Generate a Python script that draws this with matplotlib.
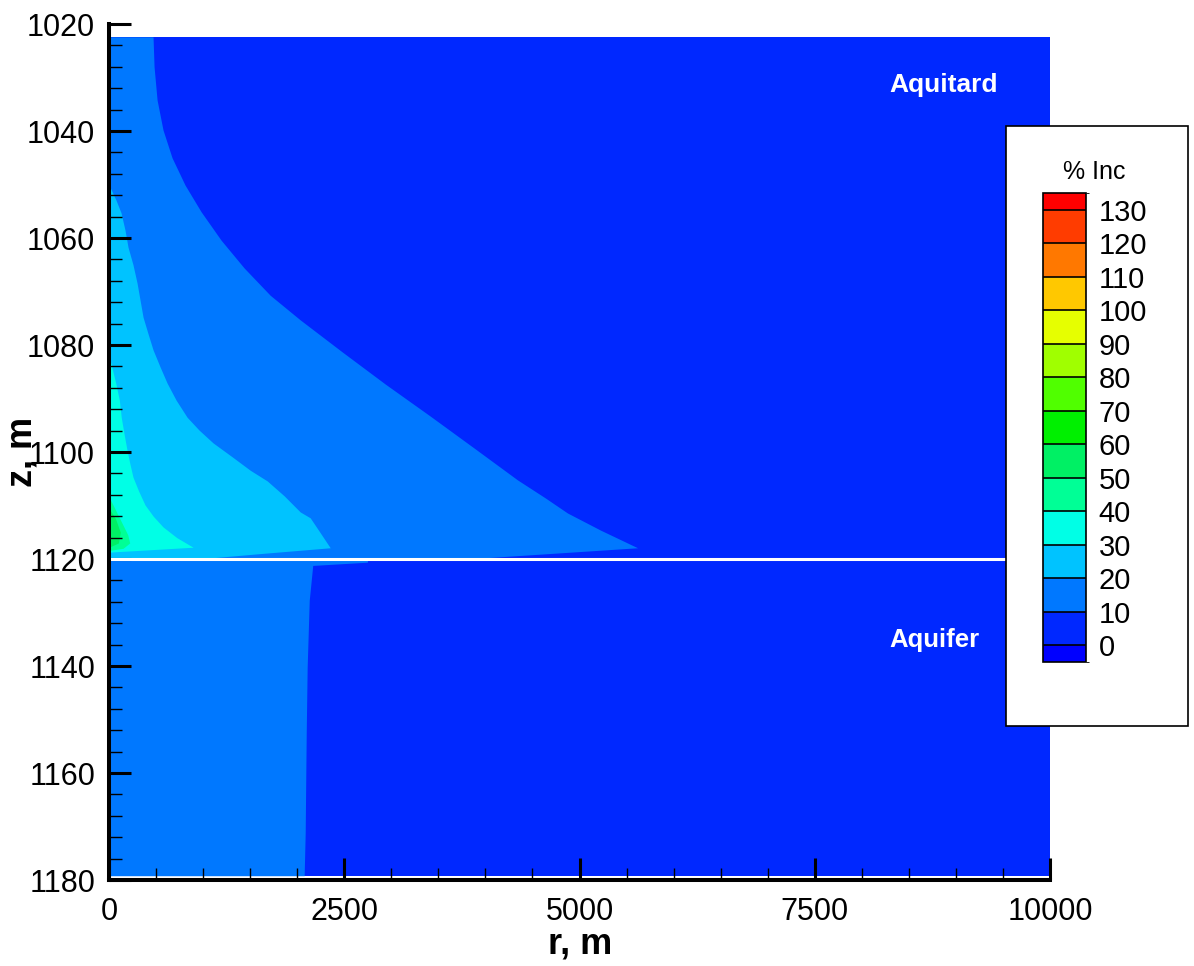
import numpy as np
import matplotlib
matplotlib.use("Agg")
import matplotlib.pyplot as plt
from matplotlib.colors import ListedColormap, BoundaryNorm
from matplotlib.patches import Rectangle
import matplotlib.colorbar as mcolorbar

plt.rcParams['font.family'] = ['Liberation Sans', 'DejaVu Sans']

# contour levels (% Inc) and band colours: <0, 0-10, ..., 120-130, >130
levels = [0, 10, 20, 30, 40, 50, 60, 70, 80, 90, 100, 110, 120, 130]
band_colors = ['#0000FF', '#0028FF', '#0078FF', '#00C3FF', '#00FFE6',
               '#00FF96', '#00F064', '#00F000', '#50FF00', '#A0FF00',
               '#E6FF00', '#FFC800', '#FF7800', '#FF3C00', '#FF0000']

# layer limits, m
z_top = 1022.4
z_interface = 1120.0
z_bottom = 1179.2
r_max = 10000

# aquitard: outer radius r (m) of each contour level against depth z (m)
aq_z_10 = [1022.4, 1028.0, 1034.2, 1039.8, 1045.0, 1050.1, 1055.1, 1060.4,
           1065.6, 1070.7, 1075.3, 1081.3, 1087.3, 1093.3, 1099.3, 1105.2,
           1108.6, 1111.4, 1114.6, 1117.9, 1120.0]
aq_r_10 = [468, 479, 511, 574, 670, 808, 979, 1191,
           1436, 1713, 2032, 2479, 2936, 3415, 3883, 4340,
           4638, 4872, 5223, 5617, 3800]

aq_z_20 = [1050.1, 1052.9, 1055.3, 1058.5, 1061.7, 1065.0, 1068.4, 1071.6,
           1074.8, 1077.9, 1080.9, 1084.1, 1087.1, 1090.3, 1093.5, 1095.9,
           1098.3, 1100.9, 1103.4, 1105.4, 1108.2, 1111.2, 1112.3, 1115.1,
           1117.9, 1119.0, 1120.0]
aq_r_20 = [0, 74, 128, 170, 202, 255, 298, 330,
           362, 415, 468, 543, 617, 713, 830, 957,
           1106, 1309, 1500, 1681, 1862, 2032, 2138, 2245,
           2351, 1600, 950]

aq_z_30 = [1082.0, 1087.0, 1090.3, 1093.5, 1096.6, 1099.6, 1102.2, 1104.7,
           1107.3, 1109.9, 1112.0, 1114.0, 1116.0, 1117.8, 1118.7, 1119.0]
aq_r_30 = [0, 70, 110, 130, 160, 191, 222, 255,
           315, 383, 470, 574, 720, 894, 20, 0]

aq_z_40 = [1108.4, 1110.5, 1113.0, 1115.5, 1117.0, 1118.0, 1118.4]
aq_r_40 = [0, 60, 130, 200, 220, 150, 0]

aq_z_50 = [1110.5, 1112.5, 1115.0, 1117.0, 1117.8]
aq_r_50 = [0, 70, 120, 100, 0]

# aquifer: 10 % contour
af_z_10 = [1120.0, 1120.6, 1121.2, 1127.7, 1140.2, 1152.5, 1171.2, 1179.2]
af_r_10 = [2750, 2745, 2165, 2128, 2106, 2096, 2085, 2074]

W, H = 1194, 966
fig = plt.figure(figsize=(W / 100, H / 100), dpi=100)
ax = fig.add_axes([109 / W, 1 - 880 / H, (1050 - 109) / W, (880 - 24) / H])
ax.set_facecolor('white')

# background band 0-10 in both layers
ax.fill_between([0, r_max], z_top, z_interface, color=band_colors[1], lw=0)
ax.fill_between([0, r_max], z_interface, z_bottom, color=band_colors[1], lw=0)

aquitard = [(aq_z_10, aq_r_10, 2), (aq_z_20, aq_r_20, 3), (aq_z_30, aq_r_30, 4),
            (aq_z_40, aq_r_40, 5), (aq_z_50, aq_r_50, 6)]
for z, r, c in aquitard:
    ax.fill_betweenx(z, 0, r, color=band_colors[c], lw=0)
ax.fill_betweenx(af_z_10, 0, af_r_10, color=band_colors[2], lw=0)

# white interface line
ax.axhline(z_interface, color='white', lw=2.2)

ax.text(8290, 1031.4, 'Aquitard', color='white', fontsize=19, fontweight='bold',
        ha='left', va='center')
ax.text(8290, 1135.1, 'Aquifer', color='white', fontsize=18.5, fontweight='bold',
        ha='left', va='center')

ax.set_xlim(0, r_max)
ax.set_ylim(1180, 1020)
ax.set_xticks(np.arange(0, 10001, 2500))
ax.set_xticks(np.arange(0, 10001, 500), minor=True)
ax.set_yticks(np.arange(1020, 1181, 20))
ax.set_yticks(np.arange(1020, 1181, 4), minor=True)
for s in ['top', 'right']:
    ax.spines[s].set_visible(False)
for s in ['left', 'bottom']:
    ax.spines[s].set_linewidth(2.9)
ax.tick_params(which='major', direction='in', length=16, width=2.2,
               labelsize=22, pad=10)
ax.tick_params(which='minor', direction='in', length=9, width=1)
ax.tick_params(axis='x', which='major', pad=12)

fig.text(580 / W, 1 - 944 / H, 'r, m', fontsize=26, fontweight='bold',
         ha='center', va='center')
fig.text(22 / W, 1 - 452 / H, 'z, m', fontsize=26, fontweight='bold',
         ha='center', va='center', rotation=90)

# legend box
box = Rectangle((1006 / W, 1 - 726 / H), 182 / W, 600 / H, transform=fig.transFigure,
                facecolor='white', edgecolor='black', lw=1.2, zorder=1)
fig.add_artist(box)
fig.text(1063 / W, 1 - 172 / H, '% Inc', fontsize=18, ha='left', va='center',
         zorder=3)

cax = fig.add_axes([1043 / W, 1 - 662 / H, 43 / W, (662 - 193) / H])
cax.set_zorder(2)
cmap = ListedColormap(band_colors)
bounds = [-5] + levels + [135]
norm = BoundaryNorm(bounds, cmap.N)
cb = mcolorbar.ColorbarBase(cax, cmap=cmap, norm=norm, boundaries=bounds,
                            spacing='proportional', ticks=levels, drawedges=True)
cb.outline.set_linewidth(1.2)
cb.dividers.set_linewidth(1.2)
cax.tick_params(length=0, labelsize=21, pad=9)

fig.savefig('out.png', dpi=100)
